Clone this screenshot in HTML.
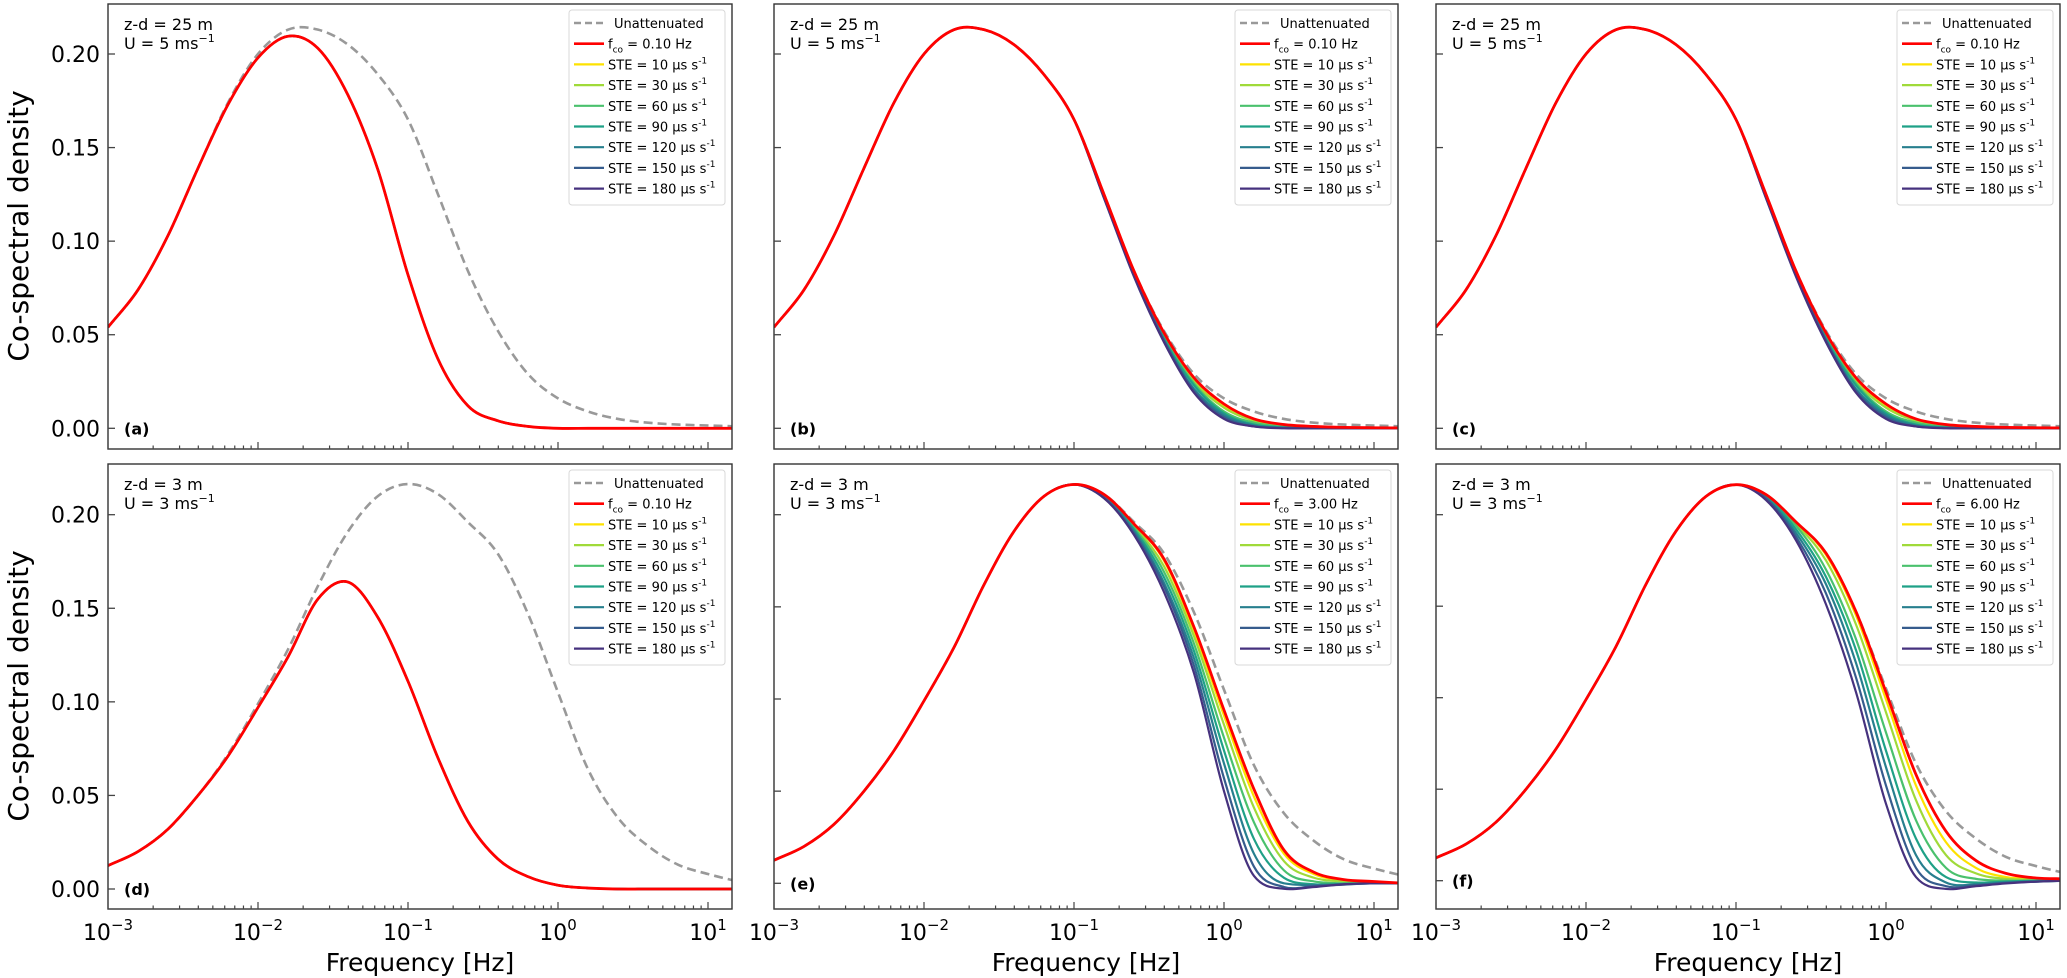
<!DOCTYPE html>
<html><head><meta charset="utf-8"><style>
html,body{margin:0;padding:0;background:#fff;}
svg{display:block;font-family:"DejaVu Sans","Liberation Sans",sans-serif;}
</style></head><body>
<svg id="fig" width="2067" height="978" viewBox="0 0 2067 978" xmlns="http://www.w3.org/2000/svg">
<text x="0" y="0" font-size="28" text-anchor="middle" transform="translate(20,226) rotate(-90)" dominant-baseline="middle">Co-spectral density</text>
<text x="0" y="0" font-size="28" text-anchor="middle" transform="translate(20,686) rotate(-90)" dominant-baseline="middle">Co-spectral density</text>
</svg>
<script>
// ---- data (log10 frequency grid, shared) ----
const logFreq = [-3.0,-2.8,-2.6,-2.4,-2.2,-2.0,-1.8,-1.6,-1.4,-1.2,-1.0,-0.8,-0.6,-0.4,-0.2,0.0,0.2,0.4,0.6,0.8,1.0,1.2];
const yTickValues = [0.00,0.05,0.10,0.15,0.20];
const yTickLabels = ["0.00","0.05","0.10","0.15","0.20"];
const xTickExponents = [-3,-2,-1,0,1];
const xTickLabels = ["\u22123","\u22122","\u22121","0","1"];
const steLabels = ["10","30","60","90","120","150","180"];

// top row (z-d = 25 m, U = 5 m/s)
const topHead = [0.054,0.074,0.103,0.139,0.174,0.200,0.213,0.213,0.205,0.189,0.165];
const unattTop = [...topHead,0.125,0.084,0.052,0.029,0.016,0.009,0.005,0.003,0.002,0.0015,0.001];
const redA = [0.054,0.074,0.103,0.139,0.173,0.198,0.2095,0.203,0.178,0.138,0.082,0.037,0.012,0.004,0.001,0,0,0,0,0,0,0];
const redB = [...topHead,0.125,0.084,0.051,0.027,0.013,0.005,0.002,0.001,0.0005,0.0003,0.0002];
const ste10B = [...topHead,0.125,0.084,0.050,0.026,0.012,0.0045,0.0015,0.0008,0,0,0];
const ste30B = [...topHead,0.125,0.084,0.049,0.025,0.011,0.004,0.001,0.0005,0,0,0];
const ste60B = [...topHead,0.124,0.083,0.049,0.024,0.009,0.003,0.0008,0.0003,0,0,0];
const ste90B = [...topHead,0.124,0.083,0.048,0.023,0.008,0.002,0.0005,0.0002,0,0,0];
const ste120B = [...topHead,0.124,0.082,0.047,0.021,0.007,0.0015,0.0003,0.0001,0,0,0];
const ste150B = [...topHead,0.123,0.082,0.047,0.020,0.006,0.001,0.0002,0,0,0,0];
const ste180B = [...topHead,0.123,0.081,0.046,0.019,0.005,0.001,0,0,0,0,0];

// bottom row (z-d = 3 m, U = 3 m/s)
const botHead = [0.0125,0.020,0.032,0.050,0.072,0.099,0.128,0.162,0.191,0.210,0.2164];
const unattBot = [...botHead,0.211,0.196,0.179,0.147,0.105,0.064,0.038,0.023,0.013,0.008,0.004];
const redD = [0.0125,0.020,0.032,0.050,0.071,0.097,0.124,0.155,0.164,0.145,0.111,0.070,0.036,0.016,0.0066,0.002,0.0005,0,0,0,0,0];
const redE = [...botHead,0.211,0.195,0.176,0.139,0.094,0.051,0.018,0.006,0.002,0.001,0];
const ste10E = [...botHead,0.211,0.195,0.175,0.137,0.091,0.047,0.016,0.005,0.0015,0.0005,0];
const ste30E = [...botHead,0.211,0.194,0.172,0.134,0.086,0.041,0.012,0.003,0.001,0,0];
const ste60E = [...botHead,0.210,0.193,0.169,0.130,0.079,0.033,0.007,0.001,0,0,0];
const ste90E = [...botHead,0.210,0.192,0.166,0.126,0.072,0.024,0.003,-0.0005,-0.0003,0,0];
const ste120E = [...botHead,0.210,0.191,0.163,0.122,0.065,0.016,0.000,-0.001,-0.0005,0,0];
const ste150E = [...botHead,0.209,0.190,0.161,0.118,0.057,0.009,-0.002,-0.0015,-0.0007,0,0];
const ste180E = [...botHead,0.209,0.189,0.158,0.114,0.050,0.004,-0.003,-0.002,-0.0005,0,0];
const redF = [...botHead,0.211,0.196,0.179,0.147,0.103,0.058,0.027,0.011,0.004,0.0015,0.001];
const ste10F = [...botHead,0.211,0.196,0.178,0.145,0.099,0.052,0.021,0.007,0.002,0.001,0.0005];
const ste30F = [...botHead,0.211,0.195,0.175,0.140,0.092,0.044,0.014,0.004,0.001,0.0005,0];
const ste60F = [...botHead,0.210,0.194,0.170,0.132,0.081,0.033,0.007,0.001,0,0,0];
const ste90F = [...botHead,0.210,0.192,0.166,0.126,0.071,0.023,0.002,-0.001,-0.0005,0,0];
const ste120F = [...botHead,0.209,0.190,0.162,0.119,0.062,0.014,-0.001,-0.002,-0.001,-0.0005,0];
const ste150F = [...botHead,0.209,0.188,0.157,0.111,0.052,0.007,-0.003,-0.0025,-0.0012,-0.0005,0];
const ste180F = [...botHead,0.208,0.186,0.151,0.103,0.042,0.002,-0.0045,-0.003,-0.0015,-0.0005,0];

// ---- layout ----
const steColors = ["#fde200","#a0da39","#4ac16d","#1fa187","#277f8e","#365c8d","#46327e"];
const W = 624, DEC = 150;
const panels = [
 {id:"a",left:108,top:4,h:445,y0:428.3,k:1871.5,col:0,row:0,zd:"25",u:"5",fco:"0.10",un:unattTop,red:redA,ste:[redA,redA,redA,redA,redA,redA,redA]},
 {id:"b",left:774,top:4,h:445,y0:428.3,k:1871.5,col:1,row:0,zd:"25",u:"5",fco:"0.10",un:unattTop,red:redB,ste:[ste10B,ste30B,ste60B,ste90B,ste120B,ste150B,ste180B]},
 {id:"c",left:1436,top:4,h:445,y0:428.3,k:1871.5,col:2,row:0,zd:"25",u:"5",fco:"0.10",un:unattTop,red:redB,ste:[ste10B,ste30B,ste60B,ste90B,ste120B,ste150B,ste180B]},
 {id:"d",left:108,top:464,h:445,y0:889,k:1871.5,col:0,row:1,zd:"3",u:"3",fco:"0.10",un:unattBot,red:redD,ste:[redD,redD,redD,redD,redD,redD,redD]},
 {id:"e",left:774,top:464,h:445,y0:883.3,k:1843,col:1,row:1,zd:"3",u:"3",fco:"3.00",un:unattBot,red:redE,ste:[ste10E,ste30E,ste60E,ste90E,ste120E,ste150E,ste180E]},
 {id:"f",left:1436,top:464,h:445,y0:880.7,k:1830,col:2,row:1,zd:"3",u:"3",fco:"6.00",un:unattBot,red:redF,ste:[ste10F,ste30F,ste60F,ste90F,ste120F,ste150F,ste180F]}
];
const NS = "http://www.w3.org/2000/svg";
const svg = document.getElementById("fig");
function mk(tag, attrs, parent){const e=document.createElementNS(NS,tag);for(const k in attrs)e.setAttribute(k,attrs[k]);(parent||svg).appendChild(e);return e;}

function smoothPath(xs, ys){
  const n=xs.length, d=[], m=new Array(n);
  for(let i=0;i<n-1;i++) d.push((ys[i+1]-ys[i])/(xs[i+1]-xs[i]));
  m[0]=d[0]; m[n-1]=d[n-2];
  for(let i=1;i<n-1;i++){ m[i]=(d[i-1]+d[i])/2; }
  for(let i=0;i<n-1;i++){
    if(d[i]===0){continue;}
    const a=m[i]/d[i], b=m[i+1]/d[i];
    if(a>0 && b>0){const s=a*a+b*b; if(s>9){const t=3/Math.sqrt(s);m[i]=t*a*d[i];m[i+1]=t*b*d[i];}}
  }
  let p="M"+xs[0].toFixed(2)+","+ys[0].toFixed(2);
  for(let i=0;i<n-1;i++){
    const h=xs[i+1]-xs[i];
    p+=" C"+(xs[i]+h/3).toFixed(2)+","+(ys[i]+m[i]*h/3).toFixed(2)+" "+(xs[i+1]-h/3).toFixed(2)+","+(ys[i+1]-m[i+1]*h/3).toFixed(2)+" "+xs[i+1].toFixed(2)+","+ys[i+1].toFixed(2);
  }
  return p;
}

panels.forEach(P=>{
  const g = mk("g",{});
  
  
  const xS = lf => P.left + (lf+3)*DEC;
  const yS = v => P.y0 - v*P.k;
  const cid = "clip-"+P.id;
  const cp = mk("clipPath",{id:cid},g); mk("rect",{x:P.left,y:P.top,width:W,height:P.h},cp);
  const plot = mk("g",{"clip-path":"url(#"+cid+")"},g);
  const xs = logFreq.map(xS);
  const series = [{v:P.un,c:"#999999",w:2.6,dash:"9,5",name:"unattenuated-line"}];
  P.ste.forEach((arr,i)=>series.push({v:arr,c:steColors[i],w:2.2,name:"ste-"+steLabels[i]+"-line"}));
  series.push({v:P.red,c:"#ff0000",w:2.8,name:"fco-line"});
  series.forEach(s=>{
    const path = mk("path",{d:smoothPath(xs,s.v.map(yS)),fill:"none",stroke:s.c,"stroke-width":s.w,"stroke-linejoin":"round"},plot);
    if(s.dash) path.setAttribute("stroke-dasharray",s.dash);
    
    
  });
  const fr = mk("rect",{x:P.left,y:P.top,width:W,height:P.h,fill:"none",stroke:"#333","stroke-width":1.4},g);
  
  
  yTickValues.forEach((v,i)=>{
    const y=yS(v);
    mk("line",{x1:P.left,x2:P.left+7,y1:y,y2:y,stroke:"#444","stroke-width":1.3},g);
    if(P.col===0){
      const t=mk("text",{x:P.left-8,y:y+8,"font-size":22,"text-anchor":"end",fill:"#000"},g);
      t.textContent=yTickLabels[i];
      
      
    }
  });
  const yb=P.top+P.h;
  for(let e=-3;e<=1;e++){
    for(let k=1;k<=9;k++){
      const lf=e+Math.log10(k); if(lf>1.16) break;
      const x=xS(lf);
      mk("line",{x1:x,x2:x,y1:yb,y2:yb-(k===1?7:3.5),stroke:"#444","stroke-width":1.2},g);
    }
  }
  if(P.row===1){
    xTickExponents.forEach((e,i)=>{
      const t=mk("text",{x:xS(e),y:yb+22+9,"font-size":22,"text-anchor":"middle",fill:"#000"},g);
      
      
      const a=mk("tspan",{},t); a.textContent="10";
      const b=mk("tspan",{dy:-10,"font-size":15},t); b.textContent=xTickLabels[i];
    });
    const xt=mk("text",{x:P.left+W/2,y:yb+62,"font-size":25,"text-anchor":"middle",fill:"#000"},g);
    xt.textContent="Frequency [Hz]";
    
    
  }
  const a1=mk("text",{x:P.left+16,y:P.top+26,"font-size":16,fill:"#000"},g);
  a1.textContent="z-d = "+P.zd+" m";
  
  
  const a2=mk("text",{x:P.left+16,y:P.top+45,"font-size":16,fill:"#000"},g);
  
  
  const a2a=mk("tspan",{},a2); a2a.textContent="U = "+P.u+" ms";
  const a2b=mk("tspan",{dy:-7,"font-size":11},a2); a2b.textContent="\u22121";
  const pl=mk("text",{x:P.left+16,y:yS(0)+6,"font-size":16,"font-weight":"bold",fill:"#000"},g);
  pl.textContent="("+P.id+")";
  
  
  const lx=P.left+W-7-156, ly=P.top+6;
  const lg=mk("g",{},g);
  
  
  mk("rect",{x:lx,y:ly,width:156,height:195,rx:3,fill:"#fff","fill-opacity":0.85,stroke:"#d8d8d8","stroke-width":1},lg);
  const rows=[{c:"#999999",dash:"7,4",type:"un"},{c:"#ff0000",type:"red"}];
  steColors.forEach((c,i)=>rows.push({c:c,type:"ste",lab:steLabels[i]}));
  rows.forEach((r,i)=>{
    const y=ly+13+i*20.7;
    const ln=mk("line",{x1:lx+5,x2:lx+35,y1:y,y2:y,stroke:r.c,"stroke-width":r.type==="ste"?2.2:2.6},lg);
    if(r.dash) ln.setAttribute("stroke-dasharray",r.dash);
    const t=mk("text",{x:lx+(r.type==="un"?45:39),y:y+5,"font-size":13,fill:"#000"},lg);
    
    
    if(r.type==="un"){ t.textContent="Unattenuated"; }
    else if(r.type==="red"){
      const s1=mk("tspan",{},t); s1.textContent="f";
      const s2=mk("tspan",{dy:4,"font-size":9},t); s2.textContent="co";
      const s3=mk("tspan",{dy:-4},t); s3.textContent=" = "+P.fco+" Hz";
    } else {
      const s1=mk("tspan",{},t); s1.textContent="STE = "+r.lab+" \u03bcs s";
      const s2=mk("tspan",{dy:-6,"font-size":9},t); s2.textContent="-1";
    }
  });
});
</script>
</body></html>
